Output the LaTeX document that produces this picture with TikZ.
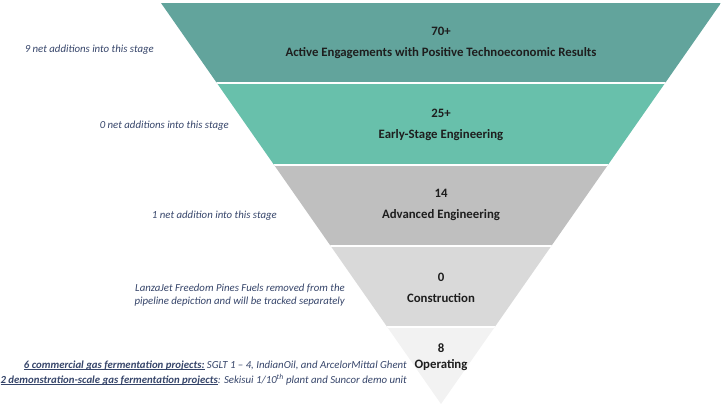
\documentclass[tikz,border=0pt]{standalone}
\usepackage{fontspec}
\setmainfont{Carlito}
\usepackage{tikz}
\usetikzlibrary{positioning}

\definecolor{stageA}{HTML}{62A49C}
\definecolor{stageB}{HTML}{68C0AB}
\definecolor{stageC}{HTML}{BFBFBF}
\definecolor{stageD}{HTML}{D9D9D9}
\definecolor{stageE}{HTML}{F2F2F2}
\definecolor{labeltext}{HTML}{1E1E1E}
\definecolor{notetext}{HTML}{36456A}

% underline close to the baseline
\newcommand{\undertext}[1]{\setbox0\hbox{#1}\rlap{\rule[-1.6pt]{\wd0}{0.6pt}}\box0\relax}

\tikzset{
  stagelabel/.style={align=center, text=labeltext, font=\fontsize{12.8}{20.5}\selectfont\bfseries, inner sep=0pt},
  stagenote/.style={anchor=east, align=right, text=notetext, font=\fontsize{10.8}{13.5}\selectfont\itshape, inner sep=0pt}
}

\begin{document}
\begin{tikzpicture}[x=1pt, y=-1pt]
				\useasboundingbox (0,0) rectangle (721,406);
				
				% Funnel bands
				\begin{scope}
					\clip (161,3) -- (721,3) -- (441,404) -- cycle;
					\fill[stageA] (0,3) rectangle (721,83);
					\fill[stageB] (0,83) rectangle (721,165);
					\fill[stageC] (0,165) rectangle (721,246);
					\fill[stageD] (0,246) rectangle (721,327);
					\fill[stageE] (0,327) rectangle (721,406);
					% white gaps between the stages
					\foreach \y in {83,165,246,327}
						\draw[white, line width=2pt] (0,\y) -- (721,\y);
				\end{scope}
				
				% Stage labels
				\node[stagelabel] (active) at (441,43) {70+\\Active Engagements with Positive Technoeconomic Results};
				\node[stagelabel] (early) at (441,125) {25+\\Early-Stage Engineering};
				\node[stagelabel] (advanced) at (441,205) {14\\Advanced Engineering};
				\node[stagelabel] (construction) at (441,288) {0\\Construction};
				\node[stagelabel, font=\fontsize{12.8}{16}\selectfont\bfseries] (operating) at (441,357) {8\\Operating};
				
				% Notes on the left
				\node[stagenote] (activenote) at (154,50) {9 net additions into this stage};
				\node[stagenote] (earlynote) at (229,126) {0 net additions into this stage};
				\node[stagenote] (advancednote) at (277,216) {1 net addition into this stage};
				\node[stagenote] (constructionnote) at (345,295) {LanzaJet Freedom Pines Fuels removed from the\\pipeline depiction and will be tracked separately};
				\node[stagenote, font=\fontsize{10.8}{15}\selectfont\itshape] (operatingnote) at (407,373) {\undertext{\textbf{6 commercial gas fermentation projects:}} SGLT 1 -- 4, IndianOil, and ArcelorMittal Ghent\\\undertext{\textbf{2 demonstration-scale gas fermentation projects}}: Sekisui 1/10\textsuperscript{th} plant and Suncor demo unit};
			\end{tikzpicture}
\end{document}
